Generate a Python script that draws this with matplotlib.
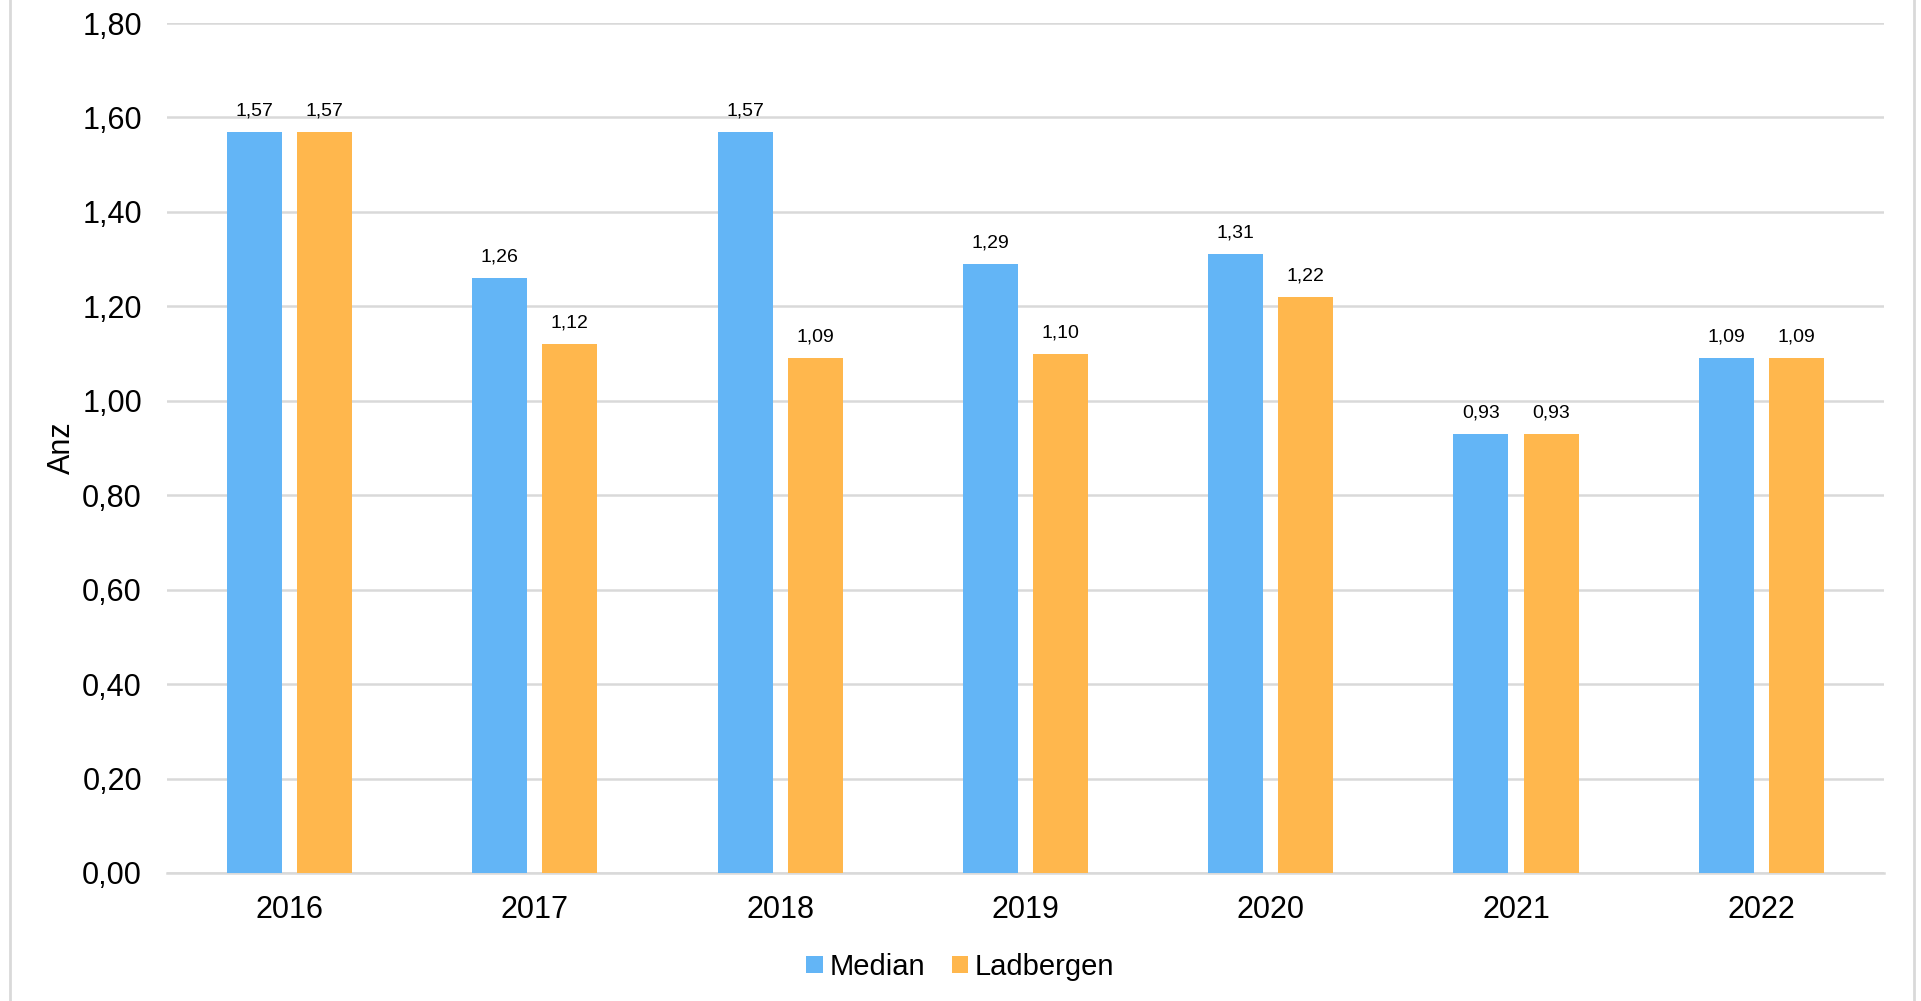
import numpy as np
import matplotlib
matplotlib.use("Agg")
import matplotlib.pyplot as plt
from matplotlib.lines import Line2D

# ---------------------- DATA ----------------------
years = ["2016", "2017", "2018", "2019", "2020", "2021", "2022"]
median = [1.57, 1.26, 1.57, 1.29, 1.31, 0.93, 1.09]
ladbergen = [1.57, 1.12, 1.09, 1.10, 1.22, 0.93, 1.09]
yticks = [0.0, 0.2, 0.4, 0.6, 0.8, 1.0, 1.2, 1.4, 1.6, 1.8]

blue = "#63B5F6"
orange = "#FFB74D"
grid_col = "#D9D9D9"

plt.rcParams["font.family"] = ["Liberation Sans", "DejaVu Sans"]


def de(v):
    return f"{v:.2f}".replace(".", ",")


# ---------------------- PLOT ----------------------
fig = plt.figure(figsize=(19.21, 10.01), dpi=100)
ax = fig.add_axes([0.0869, 0.1279, 0.8938, 0.8491])

x = np.arange(len(years))
w = 0.224
off = 0.143
b1 = ax.bar(x - off, median, w, color=blue, label="Median", zorder=3)
b2 = ax.bar(x + off, ladbergen, w, color=orange, label="Ladbergen", zorder=3)

for bars, vals in ((b1, median), (b2, ladbergen)):
    for r, v in zip(bars, vals):
        ax.annotate(de(v), (r.get_x() + r.get_width() / 2, v),
                    xytext=(0, 9), textcoords="offset points",
                    ha="center", va="bottom", fontsize=14)

ax.set_xlim(-0.5, len(years) - 0.5)
ax.set_ylim(0, 1.8)
ax.set_yticks(yticks)
ax.set_yticklabels([de(t) for t in yticks], fontsize=22)
ax.set_xticks(x)
ax.set_xticklabels(years, fontsize=22)
ax.tick_params(axis="x", length=0, pad=16)
ax.tick_params(axis="y", length=0, pad=18)

ax.yaxis.grid(True, color=grid_col, linewidth=1.8, zorder=0)
for s in ["top", "right", "left"]:
    ax.spines[s].set_visible(False)
ax.spines["bottom"].set_color(grid_col)
ax.spines["bottom"].set_linewidth(1.8)

ax.set_ylabel("Anz", fontsize=22, labelpad=4)

fig.legend(handles=[b1, b2], loc="center", bbox_to_anchor=(0.5, 0.034),
           ncol=2, frameon=False, fontsize=21, handlelength=0.55,
           handleheight=0.55, handletextpad=0.25, columnspacing=0.9)

# chart border (left/right edges visible in the reference)
for xp in (9.5 / 1921, 1913.5 / 1921):
    fig.add_artist(Line2D([xp, xp], [0, 1], color=grid_col, linewidth=2,
                          transform=fig.transFigure))

# ---------------------- SAVE ----------------------
fig.savefig("out.png", dpi=100)
plt.close(fig)
